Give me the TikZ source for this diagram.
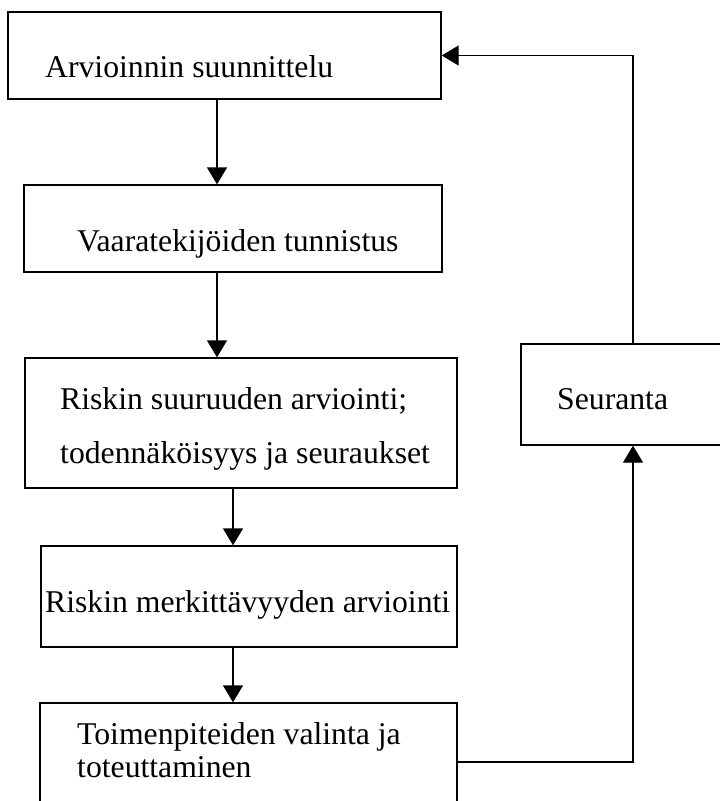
\documentclass[tikz,border=0pt]{standalone}
\usepackage{fontspec}
\setmainfont{Liberation Serif}
\usetikzlibrary{arrows.meta}
\begin{document}
\begin{tikzpicture}[x=1pt,y=-1pt]
	\useasboundingbox (0,0) rectangle (720,801);
	\clip (0,0) rectangle (720,801);
	\begin{scope}[every node/.style={rectangle,draw,line width=1.4pt,inner sep=0pt}]
	\node[minimum width=433pt,minimum height=87pt] (plan) at (224.5,55.5) {};
	\node[minimum width=418pt,minimum height=87pt] (haz) at (233,228.5) {};
	\node[minimum width=432pt,minimum height=130pt] (size) at (241,423) {};
	\node[minimum width=416pt,minimum height=101pt] (sig) at (249,596.5) {};
	\node[minimum width=417pt,minimum height=118pt] (act) at (248.5,762) {};
	\node[minimum width=224pt,minimum height=101pt] (mon) at (633,394.5) {};
	\end{scope}
	\begin{scope}[every node/.style={anchor=base west,inner sep=0pt,align=left,font=\fontsize{31.7}{33}\selectfont}]
	\node (tplan) at (45,77) {Arvioinnin suunnittelu};
	\node (thaz) at (77,251) {Vaaratekijöiden tunnistus};
	\node[font=\fontsize{31.7}{54}\selectfont] (tsize) at (60,463) {Riskin suuruuden arviointi;\\todennäköisyys ja seuraukset};
	\node (tsig) at (45,612) {Riskin merkittävyyden arviointi};
	\node (tact) at (77,777) {Toimenpiteiden valinta ja\\toteuttaminen};
	\node (tmon) at (557,409) {Seuranta};
	\end{scope}
	\begin{scope}[every edge/.style={draw=black,line width=1.4pt,-{Triangle[length=17pt,width=20pt]}}]
	\path ([xshift=-7.5pt]plan.south) edge ([xshift=-7.5pt]plan.south |- haz.north);
	\path ([xshift=-16pt]haz.south) edge ([xshift=-16pt]haz.south |- size.north);
	\path ([xshift=-8pt]size.south) edge ([xshift=-8pt]size.south |- sig.north);
	\path ([xshift=-16pt]sig.south) edge ([xshift=-16pt]sig.south |- act.north);
	\path (act.east) edge[to path={-| (\tikztotarget)}] (mon.south);
	\path (mon.north) edge[to path={|- (\tikztotarget)}] (plan.east);
	\end{scope}
\end{tikzpicture}
\end{document}
